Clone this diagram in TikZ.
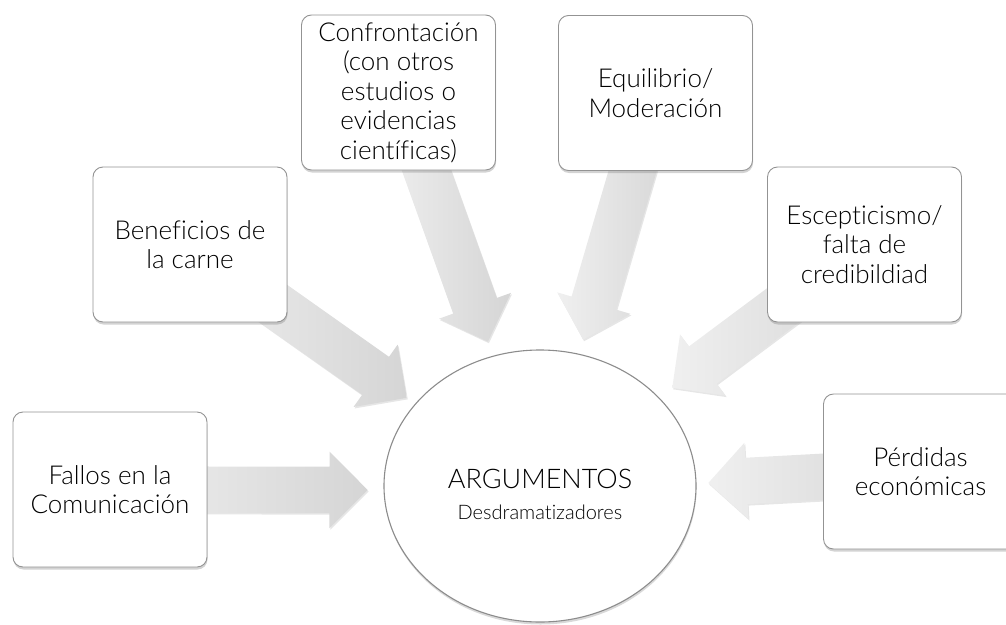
\documentclass[tikz,border=0pt]{standalone}
\usepackage{fontspec}
\setmainfont{Lato Light}[Ligatures=CommonOff]
\usetikzlibrary{shapes.arrows,shapes.geometric,shadows,calc,backgrounds}

\tikzset{
	ideabox/.style={draw=gray!85, line width=0.9pt, fill=white, rounded corners=10pt,
		minimum width=194pt, minimum height=155pt, inner sep=0pt, align=center,
		font=\fontsize{26}{29.5}\selectfont,
		drop shadow={opacity=0.35, shadow xshift=0.5pt, shadow yshift=-2.5pt}},
	bigarrow/.style={single arrow, single arrow head extend=15pt, minimum width=76pt,
		inner xsep=0pt, inner ysep=23pt, draw=none, left color=gray!12, right color=gray!33,
		drop shadow={opacity=0.2, shadow xshift=1pt, shadow yshift=-1.5pt}}
}

% block arrow from a box to a tip point
\newcommand{\blockarrow}[2]{%
	\path let \p1=($(#2)-(#1)$), \n1={atan2(\y1,\x1)}, \n2={veclen(\x1,\y1)} in
		node[bigarrow, minimum height=\n2, rotate=\n1, anchor=tip] at (#2) {};%
}

\begin{document}
\begin{tikzpicture}[x=1pt, y=-1pt]
	\useasboundingbox (0,0) rectangle (1006,624);
	
	% Centre
	\node[ellipse, draw=gray!90, line width=1.1pt, fill=white, minimum width=312pt, minimum height=272pt,
		drop shadow={opacity=0.3, shadow xshift=0.5pt, shadow yshift=-2.5pt}] (argumentos) at (540,486) {};
	\node[align=center, font=\fontsize{27}{30}\selectfont] (argtext) at (540,494)
		{ARGUMENTOS\\[1pt]{\fontsize{20}{24}\selectfont Desdramatizadores}};
	
	% Boxes
	\node[ideabox] (fallos) at (110,489.5) {Fallos en la\\Comunicación};
	\node[ideabox] (beneficios) at (190,244.5) {Beneficios de\\la carne};
	\node[ideabox] (confrontacion) at (398.5,92.5) {Confrontación\\(con otros\\estudios o\\evidencias\\científicas)};
	\node[ideabox] (equilibrio) at (655.5,93) {Equilibrio/\\Moderación};
	\node[ideabox] (escepticismo) at (864.5,244.5) {Escepticismo/\\falta de\\credibildiad};
	\node[ideabox] (perdidas) at (920.5,471.5) {Pérdidas\\económicas};
	
	% Arrow tips
	\coordinate (tipfallos) at (368,490);
	\coordinate (tipbeneficios) at (407,398);
	\coordinate (tipconfrontacion) at (488,342);
	\coordinate (tipequilibrio) at (583,340);
	\coordinate (tipescepticismo) at (672,388);
	\coordinate (tipperdidas) at (708,483);
	
	% Arrows (behind boxes)
	\begin{scope}[on background layer]
		\blockarrow{fallos}{tipfallos}
		\blockarrow{beneficios}{tipbeneficios}
		\blockarrow{confrontacion}{tipconfrontacion}
		\blockarrow{equilibrio}{tipequilibrio}
		\blockarrow{escepticismo}{tipescepticismo}
		\blockarrow{perdidas}{tipperdidas}
	\end{scope}
\end{tikzpicture}
\end{document}
